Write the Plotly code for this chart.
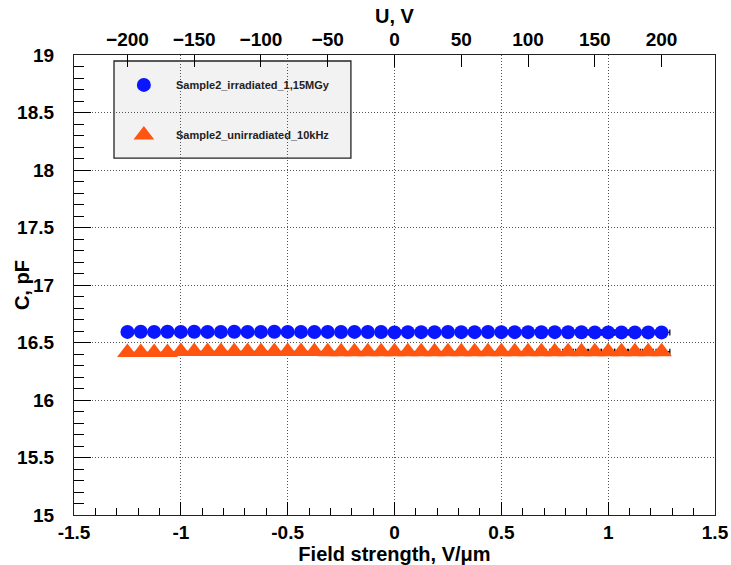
import plotly.graph_objects as go

# Bias voltage scan (V) and the corresponding field strength over a 160 um thick sample
voltage = list(range(-200, 201, 10))
thickness_um = 160.0
field = [u / thickness_um for u in voltage]

# Capacitance (pF) measured at each bias point
cap_irradiated = [
    16.592, 16.593, 16.592, 16.593, 16.592, 16.593, 16.592, 16.592, 16.593, 16.592,
    16.592, 16.593, 16.592, 16.592, 16.591, 16.592, 16.591, 16.592, 16.591, 16.591,
    16.588, 16.590, 16.590, 16.590, 16.591, 16.590, 16.590, 16.591, 16.590, 16.590,
    16.590, 16.589, 16.590, 16.589, 16.589, 16.588, 16.588, 16.588, 16.588, 16.588,
    16.588,
]
cap_unirradiated = [
    16.412, 16.412, 16.412, 16.413, 16.421, 16.421, 16.421, 16.421, 16.421, 16.421,
    16.421, 16.421, 16.421, 16.421, 16.421, 16.420, 16.420, 16.420, 16.420, 16.420,
    16.420, 16.420, 16.420, 16.420, 16.420, 16.420, 16.420, 16.420, 16.420, 16.420,
    16.420, 16.420, 16.420, 16.420, 16.420, 16.420, 16.420, 16.420, 16.420, 16.420,
    16.420,
]
# Field uncertainty (V/um), quoted on the positive-bias branch
field_err = [0.0 if e <= 0 else 0.031 * e for e in field]

series_names = ["Sample2_irradiated_1,15MGy", "Sample2_unirradiated_10kHz"]
series_colors = ["#0a16ff", "#ff5511"]
series_symbols = ["circle", "triangle-up"]
series_sizes = [14, 18]
series_values = [cap_irradiated, cap_unirradiated]

x_ticks = [-1.5, -1, -0.5, 0, 0.5, 1, 1.5]
y_ticks = [15, 15.5, 16, 16.5, 17, 17.5, 18, 18.5, 19]
u_ticks = [-200, -150, -100, -50, 0, 50, 100, 150, 200]

FONT = "Liberation Sans"
tick_font = dict(family=FONT, size=19, color="black", weight="bold")
title_font = dict(family=FONT, size=20, color="black", weight="bold")
GRID = dict(showgrid=True, gridcolor="#555555", griddash="1px,2px", gridwidth=1)

fig = go.Figure()

for name, vals, col, sym, sz in zip(series_names, series_values, series_colors,
                                    series_symbols, series_sizes):
    fig.add_trace(go.Scatter(
        x=field, y=vals, name=name, mode="lines+markers",
        line=dict(color="#555555", width=1.5),
        marker=dict(color=col, symbol=sym, size=sz, line=dict(width=0)),
        error_x=dict(type="data", array=field_err, visible=True,
                     color="black", thickness=1.2, width=3),
        showlegend=False,
    ))

# Legend box drawn in plot-area (paper) coordinates
leg_x0, leg_x1, leg_y0, leg_y1 = 0.0624, 0.432, 0.776, 0.987
leg_mark_x, leg_text_x = 0.109, 0.156
leg_rows = [0.935, 0.826]

fig.add_shape(type="rect", xref="paper", yref="paper",
              x0=leg_x0, x1=leg_x1, y0=leg_y0, y1=leg_y1,
              fillcolor="#f2f2f2", line=dict(color="#222222", width=1.3),
              layer="between")

for name, col, sym, sz, ry in zip(series_names, series_colors, series_symbols,
                                  series_sizes, leg_rows):
    fig.add_trace(go.Scatter(
        x=[leg_mark_x], y=[ry], xaxis="x3", yaxis="y3", mode="markers",
        marker=dict(color=col, symbol=sym, size=sz, line=dict(width=0)),
        showlegend=False, hoverinfo="skip", cliponaxis=False,
    ))
    fig.add_annotation(x=leg_text_x, y=ry, xref="paper", yref="paper",
                       text=name, showarrow=False, xanchor="left",
                       yanchor="middle",
                       font=dict(family=FONT, size=11, color="#222222",
                                 weight="bold"))

# Y-axis title, placed by hand so it sits over the tick-label column
fig.add_annotation(x=-0.081, y=0.5, xref="paper", yref="paper", text="C, pF",
                   textangle=-90, showarrow=False, xanchor="center",
                   yanchor="middle", font=title_font)

# Dummy trace so the top voltage axis is rendered
fig.add_trace(go.Scatter(x=[voltage[0]], y=[cap_irradiated[0]], xaxis="x2",
                         mode="markers", marker=dict(opacity=0),
                         showlegend=False, hoverinfo="skip"))

fig.update_layout(
    width=731, height=565,
    margin=dict(l=74, r=16, t=55, b=50, autoexpand=False),
    paper_bgcolor="white", plot_bgcolor="white",
    showlegend=False,
    xaxis=dict(
        range=[-1.5, 1.5], tickvals=x_ticks,
        ticktext=[f"{v:g}" for v in x_ticks],
        ticks="inside", ticklen=13, tickcolor="black", tickwidth=1,
        minor=dict(dtick=0.1, tick0=0, ticks="inside", ticklen=7,
                   tickcolor="black", showgrid=False),
        showline=True, linecolor="#222222", linewidth=1.2,
        zeroline=False, tickfont=tick_font, ticklabelstandoff=0,
        automargin=False,
        title=dict(text="Field strength, V/\u03bcm", font=title_font, standoff=0),
        **GRID,
    ),
    xaxis2=dict(
        range=[-240, 240], tickvals=u_ticks, overlaying="x", side="top",
        ticks="inside", ticklen=12, tickcolor="black",
        showline=True, linecolor="#222222", linewidth=1.2,
        showgrid=False, zeroline=False, tickfont=tick_font, automargin=False,
        title=dict(text="U, V", font=title_font, standoff=0),
    ),
    yaxis=dict(
        range=[15, 19], tickvals=y_ticks,
        ticktext=[f"{v:g}" for v in y_ticks],
        ticks="inside", ticklen=17, tickcolor="black",
        minor=dict(dtick=0.1, tick0=15, ticks="inside", ticklen=10,
                   tickcolor="black", showgrid=False),
        showline=True, mirror=True, linecolor="#222222", linewidth=1.2,
        zeroline=False, tickfont=tick_font, ticklabelstandoff=15,
        automargin=False,
        **GRID,
    ),
    xaxis3=dict(range=[0, 1], domain=[0, 1], anchor="y3", overlaying="x",
                visible=False, fixedrange=True),
    yaxis3=dict(range=[0, 1], domain=[0, 1], anchor="x3", overlaying="y",
                visible=False, fixedrange=True),
)

fig.write_html("out.html")
